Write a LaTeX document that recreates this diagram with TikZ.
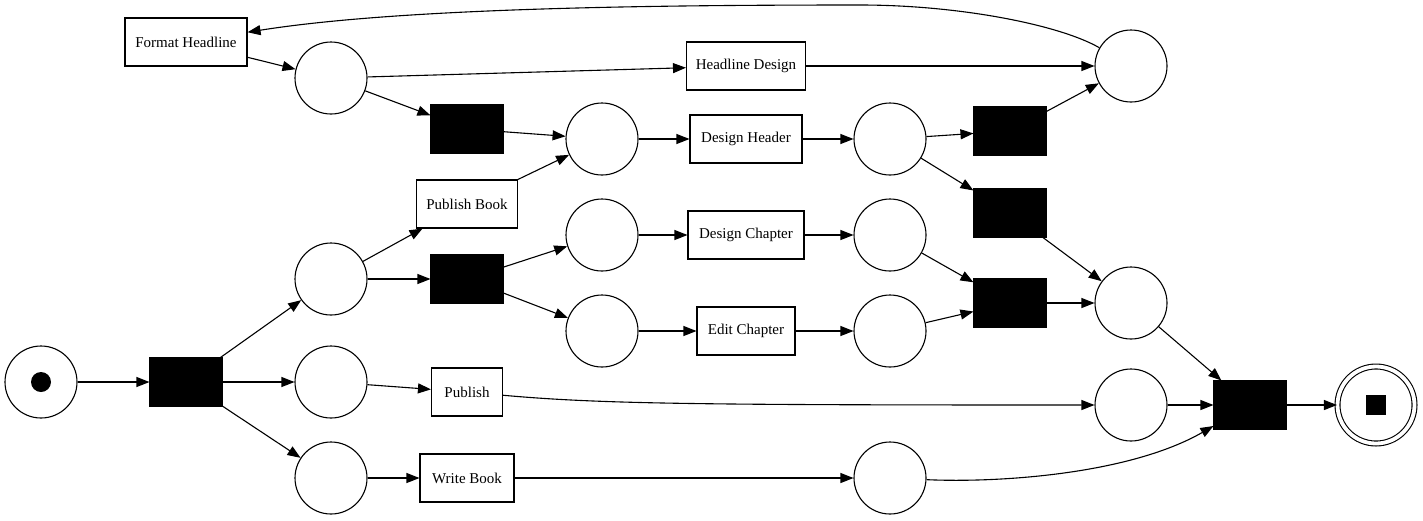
\documentclass[tikz,border=0pt]{standalone}
\usepackage{fontspec}
\setmainfont{Liberation Serif}
\usetikzlibrary{arrows.meta}
\tikzstyle{petri}=[
  line width=1.1pt, x=1pt, y=-1pt,
  font=\fontsize{15}{17}\selectfont
]
\tikzstyle{place}=[
  draw,circle,inner sep=0pt,fill=white,minimum size=72pt
]
\tikzstyle{silent}=[
  draw,fill=black,inner sep=0pt,minimum width=72pt,minimum height=48pt
]
\tikzstyle{task}=[
  draw,fill=white,inner xsep=4pt,minimum height=48pt
]
\tikzstyle{final}=[
  draw,circle,double,double distance=3.8pt,inner sep=0pt,fill=white,minimum size=77pt
]
\tikzstyle{token}=[
  circle,fill=black,inner sep=0pt,minimum size=20pt
]
\tikzstyle{endmark}=[
  fill=black,inner sep=0pt,minimum size=20pt
]
\tikzstyle{arc}=[
  -{Triangle[length=13pt,width=10pt]}
]

\begin{document}
\begin{tikzpicture}[petri]
    \useasboundingbox (0,0) rectangle (1423,520);
    % places
    \node (start) at (41,382) [place] {};
    \node (tok) at (start) [token] {};
    \node (p1) at (331,279) [place] {};
    \node (p2) at (331,382) [place] {};
    \node (p3) at (331,478) [place] {};
    \node (p4) at (331,78) [place] {};
    \node (p5) at (602,139) [place] {};
    \node (p6) at (602,235) [place] {};
    \node (p7) at (602,331) [place] {};
    \node (p8) at (890,139) [place] {};
    \node (p9) at (890,235) [place] {};
    \node (p10) at (890,331) [place] {};
    \node (p11) at (1131,66) [place] {};
    \node (p12) at (1131,303) [place] {};
    \node (p13) at (1131,405) [place] {};
    \node (p14) at (890,478) [place] {};
    \node (end) at (1376,405) [final] {};
    \node (stop) at (end) [endmark] {};
    % silent transitions
    \node (t0) at (186,382) [silent] {};
    \node (t1) at (467,279) [silent] {};
    \node (t2) at (467,129) [silent] {};
    \node (t3) at (1010,131) [silent] {};
    \node (t4) at (1010,213) [silent] {};
    \node (t5) at (1010,303) [silent] {};
    \node (t6) at (1250,405) [silent] {};
    % labelled transitions
    \node (fmt) at (186,42) [task,minimum width=122pt] {Format Headline};
    \node (hld) at (746,66) [task,minimum width=119pt] {Headline Design};
    \node (dhd) at (746,139) [task,minimum width=112pt] {Design Header};
    \node (pbk) at (467,204) [task,minimum width=101pt] {Publish Book};
    \node (dch) at (746,235) [task,minimum width=116pt] {Design Chapter};
    \node (ech) at (746,331) [task,minimum width=98pt] {Edit Chapter};
    \node (pub) at (467,392) [task,minimum width=71pt] {Publish};
    \node (wbk) at (467,478) [task,minimum width=94pt] {Write Book};
    % arcs
    \draw [arc] (start) -- (t0);
    \draw [arc] (t0) -- (p1);
    \draw [arc] (t0) -- (p2);
    \draw [arc] (t0) -- (p3);
    \draw [arc] (p1) -- (pbk);
    \draw [arc] (p1) -- (t1);
    \draw [arc] (p2) -- (pub);
    \draw [arc] (p3) -- (wbk);
    \draw [arc] (t1) -- (p6);
    \draw [arc] (t1) -- (p7);
    \draw [arc] (pbk) -- (p5);
    \draw [arc] (fmt) -- (p4);
    \draw [arc] (p4) -- (t2);
    \draw [arc] (p4) -- (hld);
    \draw [arc] (t2) -- (p5);
    \draw [arc] (p5) -- (dhd);
    \draw [arc] (dhd) -- (p8);
    \draw [arc] (p8) -- (t3);
    \draw [arc] (p8) -- (t4);
    \draw [arc] (t3) -- (p11);
    \draw [arc] (hld) -- (p11);
    \draw [arc] (p11) .. controls (1060,25) and (960,5) .. (860,5)
      .. controls (650,5) and (400,8) .. (fmt);
    \draw [arc] (p6) -- (dch);
    \draw [arc] (dch) -- (p9);
    \draw [arc] (p7) -- (ech);
    \draw [arc] (ech) -- (p10);
    \draw [arc] (p9) -- (t5);
    \draw [arc] (p10) -- (t5);
    \draw [arc] (t4) -- (p12);
    \draw [arc] (t5) -- (p12);
    \draw [arc] (p12) -- (t6);
    \draw [arc] (pub) .. controls (600,404) and (700,405) .. (p13);
    \draw [arc] (p13) -- (t6);
    \draw [arc] (wbk) -- (p14);
    \draw [arc] (p14) .. controls (1000,483) and (1130,474) .. (t6);
    \draw [arc] (t6) -- (end);
\end{tikzpicture}
\end{document}
